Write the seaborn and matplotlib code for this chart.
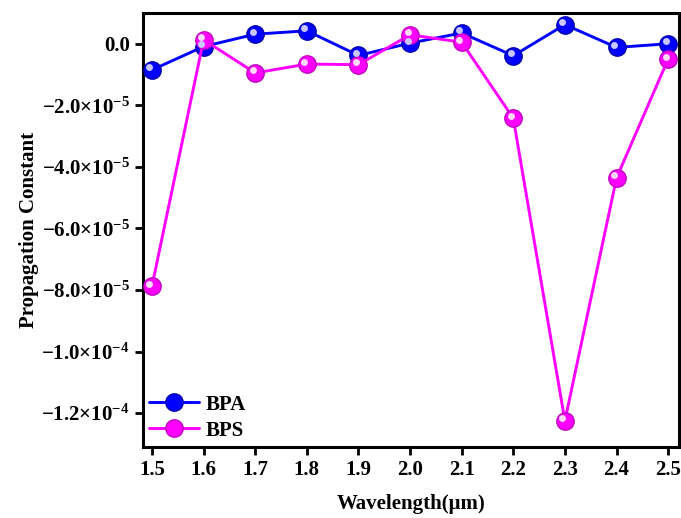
import pandas as pd
import seaborn as sns
import matplotlib.pyplot as plt
import matplotlib.transforms as mtransforms
from matplotlib.ticker import FuncFormatter, MultipleLocator

wavelength = [1.5, 1.6, 1.7, 1.8, 1.9, 2.0, 2.1, 2.2, 2.3, 2.4, 2.5]
bpa = [-0.85e-5, -0.09e-5, 0.31e-5, 0.42e-5, -0.38e-5, 0.02e-5,
       0.35e-5, -0.39e-5, 0.62e-5, -0.12e-5, 0.0e-5]
bps = [-7.87e-5, 0.13e-5, -0.95e-5, -0.66e-5, -0.68e-5, 0.29e-5,
       0.05e-5, -2.42e-5, -12.25e-5, -4.36e-5, -0.50e-5]
y_ticks = [0.0, -2e-5, -4e-5, -6e-5, -8e-5, -1e-4, -1.2e-4]

sns.set_style("ticks")
plt.rcParams["font.family"] = ["Liberation Serif", "DejaVu Serif"]
plt.rcParams["font.weight"] = "bold"
plt.rcParams["mathtext.fontset"] = "custom"
plt.rcParams["mathtext.rm"] = "Liberation Serif:bold"
plt.rcParams["mathtext.bf"] = "Liberation Serif:bold"
plt.rcParams["mathtext.it"] = "Liberation Serif:bold"
plt.rcParams["axes.edgecolor"] = "black"
plt.rcParams["xtick.color"] = "black"
plt.rcParams["ytick.color"] = "black"
plt.rcParams["axes.labelcolor"] = "black"
plt.rcParams["text.color"] = "black"

colors = {"BPA": "#0000ff", "BPS": "#ff00ff"}
edges = {"BPA": "#0000b0", "BPS": "#c000c0"}
shine = {"BPA": "#c8c8ff", "BPS": "#ffd8ff"}

df = pd.concat([
    pd.DataFrame({"Wavelength": wavelength, "Value": bpa, "Series": "BPA"}),
    pd.DataFrame({"Wavelength": wavelength, "Value": bps, "Series": "BPS"}),
])

fig = plt.figure(figsize=(6.81, 5.18), dpi=100)
ax = fig.add_axes([0.21, 0.137, 0.787, 0.838])

sns.lineplot(data=df, x="Wavelength", y="Value", hue="Series",
             palette=colors, marker="o", markersize=12.5,
             markeredgewidth=1.0, linewidth=2.1, ax=ax, zorder=3)
for line, name in zip(ax.lines, ["BPA", "BPS"]):
    line.set_markeredgecolor(edges[name])

# little highlight on each ball
off = mtransforms.offset_copy(ax.transData, fig=fig, x=-1.8, y=1.8, units="points")
for name, vals in (("BPA", bpa), ("BPS", bps)):
    ax.plot(wavelength, vals, linestyle="none", marker="o", markersize=5,
            color=shine[name], markeredgewidth=0, transform=off, zorder=4)

ax.set_xlim(1.4826, 2.521)
ax.set_ylim(-1.31e-4, 1.0e-5)
ax.xaxis.set_major_locator(MultipleLocator(0.1))
ax.set_yticks(y_ticks)


def fmt(v, pos):
    if abs(v) < 1e-12:
        return "0.0"
    exp = int(f"{v:.1e}".split("e")[1])
    mant = v / 10 ** exp
    return r"$-%.1f{\times}10^{%d}$" % (abs(mant), exp)


ax.yaxis.set_major_formatter(FuncFormatter(fmt))
ax.xaxis.set_major_formatter(FuncFormatter(lambda v, p: f"{v:.1f}"))

ax.tick_params(direction="out", length=6, width=2, labelsize=15)
for s in ax.spines.values():
    s.set_linewidth(2.2)

ax.set_xlabel("Wavelength(μm)", fontsize=15, fontweight="bold", labelpad=10)
ax.set_ylabel("Propagation Constant", fontsize=15, fontweight="bold", labelpad=2)

leg = ax.legend(loc="lower left", frameon=False, handlelength=2.4,
                borderaxespad=0.1, borderpad=0.2, labelspacing=0.3,
                handletextpad=0.3, prop={"weight": "bold", "size": 15})
for h, name in zip(leg.legend_handles, ["BPA", "BPS"]):
    h.set_markeredgecolor(edges[name])

fig.savefig("out.png", dpi=100)
